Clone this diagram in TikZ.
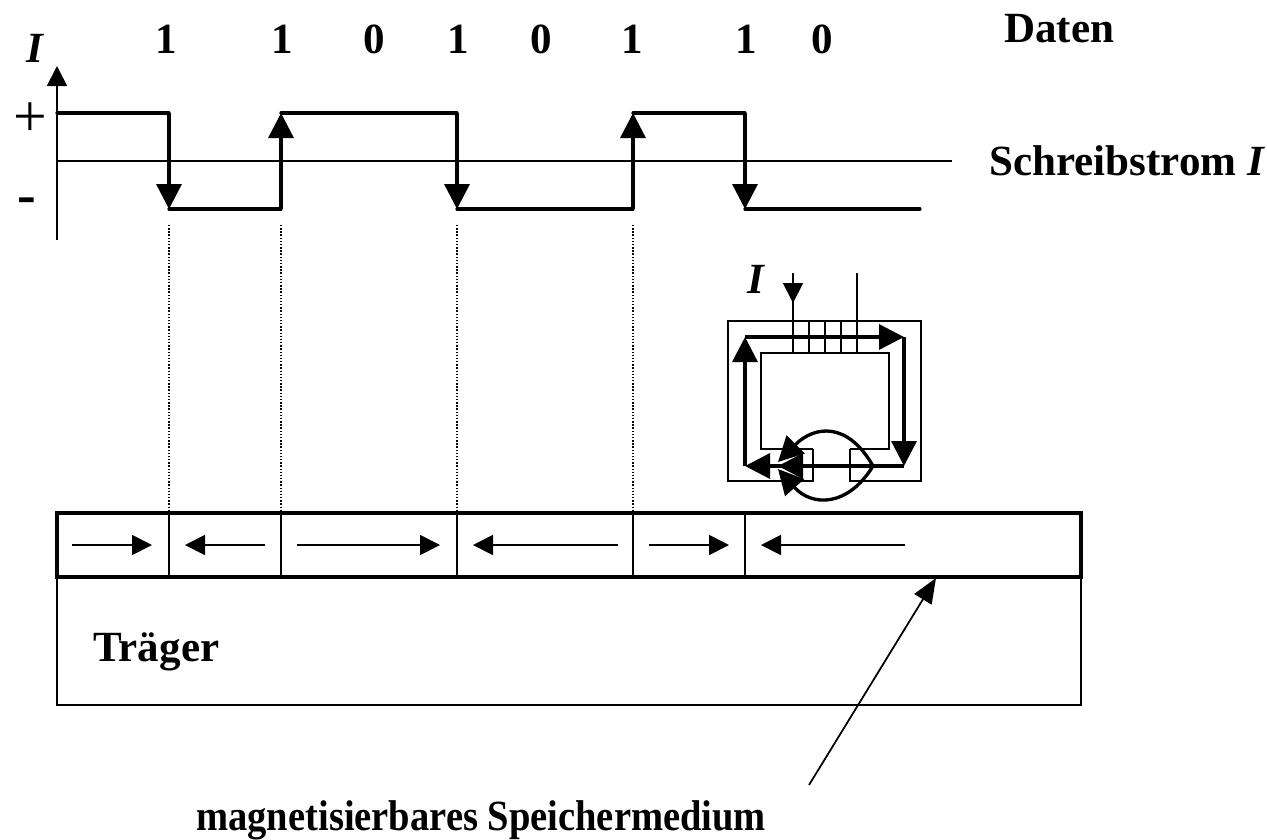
\documentclass[tikz,border=0pt]{standalone}
\usepackage{fontspec}
\setmainfont{Liberation Serif}
\usetikzlibrary{arrows.meta}

\begin{document}
\begin{tikzpicture}[x=0.2mm, y=-0.2mm,
    lbl/.style={font=\fontsize{24.5}{28}\selectfont\bfseries, inner sep=0pt, anchor=base},
    lblw/.style={lbl, anchor=base west},
    thin line/.style={line width=1pt},
    wave/.style={line width=1.9pt, line cap=round, line join=round},
    flux/.style={line width=1.9pt, -{Triangle[length=5mm,width=5mm]}},
    wavearrow/.style={line width=1.9pt, -{Triangle[length=5mm,width=5mm]}},
    bitarrow/.style={line width=1pt, -{Triangle[length=4mm,width=4mm]}},
    guide/.style={line width=0.8pt, dash pattern=on 0.8pt off 1pt}]
  \useasboundingbox (0,0) rectangle (1267,839);
  % labels
  \node[lbl] (Iaxis) at (35,62) {\textit{I}};
  \node[lbl] (plus) at (30,136) {\fontsize{34}{34}\selectfont\mdseries +};
  \node[lbl] (minus) at (27,213) {\fontsize{32}{32}\selectfont -};
  \node[lbl] (b1) at (166,53) {1};
  \node[lbl] (b2) at (282,53) {1};
  \node[lbl] (b3) at (374,53) {0};
  \node[lbl] (b4) at (458,53) {1};
  \node[lbl] (b5) at (541,53) {0};
  \node[lbl] (b6) at (632,53) {1};
  \node[lbl] (b7) at (746,53) {1};
  \node[lbl] (b8) at (822,53) {0};
  \node[lblw] (daten) at (1004,42) {Daten};
  \node[lblw] (strom) at (989,175) {Schreibstrom \textit{I}};
  \node[lbl] (Ihead) at (756,293) {\textit{I}};
  \node[lblw] (traeger) at (93,661) {Träger};
  \node[lblw] (medium) at (196,830) {\scalebox{0.895}[1]{magnetisierbares Speichermedium}};
  % axes
  \coordinate (o) at (57,240);
  \coordinate (top) at (57,66);
  \coordinate (z0) at (57,161);
  \coordinate (z1) at (952,161);
  \draw[thin line, -{Triangle[length=4mm,width=4mm]}] (o) -- (top);
  \draw[thin line] (z0) -- (z1);
  % write current
  \draw[wave] (57,113) -- (169,113);
  \draw[wave] (281,113) -- (457,113);
  \draw[wave] (633,113) -- (745,113);
  \draw[wave] (169,209) -- (281,209);
  \draw[wave] (457,209) -- (633,209);
  \draw[wave] (745,209) -- (920,209);
  \draw[wavearrow] (169,113) -- (169,209);
  \draw[wavearrow] (281,209) -- (281,113);
  \draw[wavearrow] (457,113) -- (457,209);
  \draw[wavearrow] (633,209) -- (633,113);
  \draw[wavearrow] (745,113) -- (745,209);
  % guides
  \draw[guide] (169,225) -- (169,513);
  \draw[guide] (281,225) -- (281,513);
  \draw[guide] (457,225) -- (457,513);
  \draw[guide] (633,225) -- (633,513);
  % tape
  \draw[thin line] (57,577) -- (57,705) -- (1081,705) -- (1081,577);
  \draw[line width=1.9pt] (57,513) rectangle (1081,577);
  \draw[thin line] (169,513) -- (169,577);
  \draw[thin line] (281,513) -- (281,577);
  \draw[thin line] (457,513) -- (457,577);
  \draw[thin line] (633,513) -- (633,577);
  \draw[thin line] (745,513) -- (745,577);
  \draw[bitarrow] (72,545) -- (152,545);
  \draw[bitarrow] (265,545) -- (185,545);
  \draw[bitarrow] (297,545) -- (440,545);
  \draw[bitarrow] (618,545) -- (473,545);
  \draw[bitarrow] (649,545) -- (729,545);
  \draw[bitarrow] (905,545) -- (761,545);
  \coordinate (pointer) at (809,785);
  \coordinate (pointertip) at (936,578);
  \draw[thin line, -{Triangle[length=5mm,width=4mm]}] (pointer) -- (pointertip);
  % head
  \draw[thin line] (813,449) -- (813,481) -- (728,481) -- (728,321) -- (921,321) -- (921,481) -- (850,481) -- (850,449);
  \draw[thin line] (813,449) -- (761,449) -- (761,353) -- (889,353) -- (889,449) -- (850,449);
  \draw[thin line] (793,273) -- (793,353);
  \draw[thin line] (809,321) -- (809,353);
  \draw[thin line] (825,321) -- (825,353);
  \draw[thin line] (841,321) -- (841,353);
  \draw[thin line] (857,273) -- (857,353);
  \draw[thin line, -{Triangle[length=4mm,width=4mm]}] (793,273) -- (793,303);
  \coordinate (c1) at (745,337);
  \coordinate (c2) at (904,337);
  \coordinate (c3) at (904,466);
  \coordinate (c4) at (745,466);
  \coordinate (gap) at (778,466);
  \coordinate (tip) at (873,466);
  \draw[flux] (c1) -- (c2);
  \draw[flux] (c2) -- (c3);
  \draw[flux] (c3) -- (c4);
  \draw[flux] (c4) -- (c1);
  \draw[flux] (c3) -- (gap);
  \draw[flux] (tip) .. controls (848,422) and (815,425) .. (778,462);
  \draw[flux] (tip) .. controls (848,507) and (812,507) .. (778,469);
\end{tikzpicture}
\end{document}
